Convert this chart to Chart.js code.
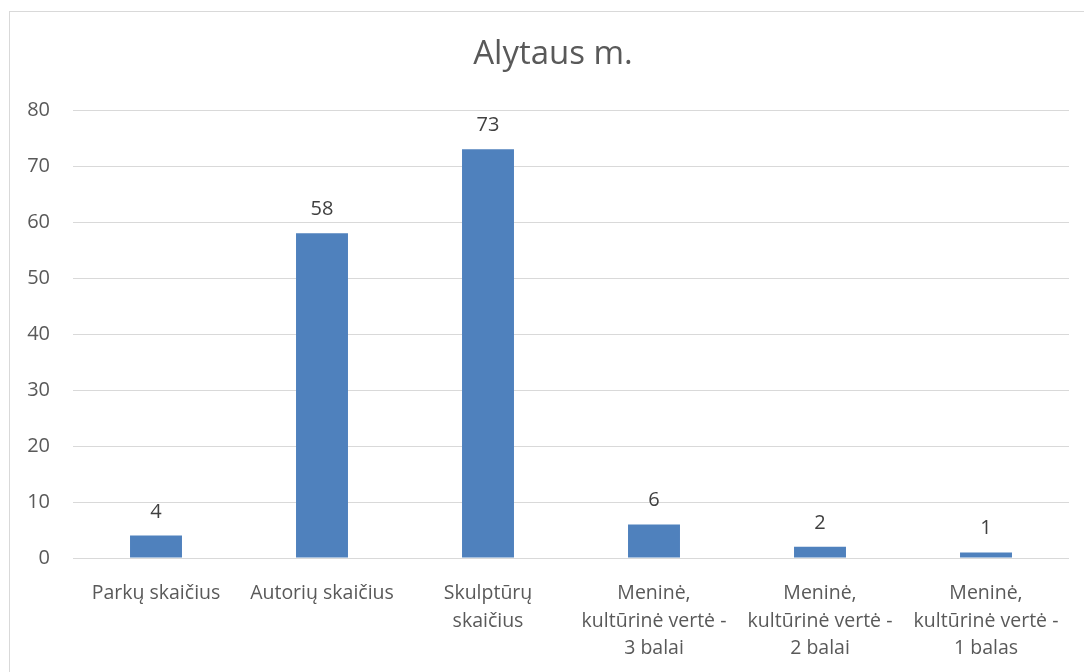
<!DOCTYPE html>
<html>
<head>
<meta charset="utf-8">
<script src="https://cdn.jsdelivr.net/npm/chart.js@4.4.0/dist/chart.umd.min.js"></script>
<style>
  html, body { margin: 0; padding: 0; background: #ffffff; overflow: hidden; }
  #frame { position: absolute; left: 9px; top: 11px; width: 1200px; height: 800px; border: 1px solid #d9d9d9; box-sizing: border-box; }
  #wrap { position: absolute; left: 0; top: 0; width: 1084px; height: 672px; }
</style>
</head>
<body>
<div id="frame"></div>
<div id="wrap"><canvas id="c" width="1084" height="672"></canvas></div>
<script>
const chartTitle = "Alytaus m.";
const categories = [
  ["Parkų skaičius"],
  ["Autorių skaičius"],
  ["Skulptūrų", "skaičius"],
  ["Meninė,", "kultūrinė vertė -", "3 balai"],
  ["Meninė,", "kultūrinė vertė -", "2 balai"],
  ["Meninė,", "kultūrinė vertė -", "1 balas"]
];
const values = [4, 58, 73, 6, 2, 1];
const yTicks = [0, 10, 20, 30, 40, 50, 60, 70, 80];

const FONT = "'Open Sans', sans-serif";

const dataLabels = {
  id: 'dataLabels',
  afterDatasetsDraw(chart) {
    const ctx = chart.ctx;
    const meta = chart.getDatasetMeta(0);
    ctx.save();
    ctx.font = "20px " + FONT;
    ctx.fillStyle = "#404040";
    ctx.textAlign = "center";
    ctx.textBaseline = "alphabetic";
    meta.data.forEach((bar, i) => {
      ctx.fillText(String(values[i]), bar.x, bar.y - 18);
    });
    ctx.restore();
  }
};

// Center the title over the whole chart frame (which extends past the window)
const titleCenter = {
  id: 'titleCenter',
  afterLayout(chart) {
    const t = chart.titleBlock;
    if (t) { t.left = 0; t.right = 1106; t.width = 1106; }
  }
};

new Chart(document.getElementById('c'), {
  type: 'bar',
  data: {
    labels: categories,
    datasets: [{
      data: values,
      backgroundColor: '#4f81bd',
      borderWidth: 0,
      categoryPercentage: 1.0,
      barPercentage: 0.313
    }]
  },
  options: {
    responsive: false,
    animation: false,
    devicePixelRatio: 1,
    layout: { padding: { left: 0, right: 15, top: 0, bottom: 0 } },
    plugins: {
      legend: { display: false },
      tooltip: { enabled: false },
      title: {
        display: true,
        text: chartTitle,
        color: '#595959',
        font: { family: FONT, size: 33, weight: 'normal', lineHeight: 1.2 },
        padding: { top: 35, bottom: 35.4 }
      }
    },
    scales: {
      x: {
        grid: { display: false, drawTicks: false },
        border: { display: false },
        ticks: {
          color: '#595959',
          font: { family: FONT, size: 19.5, lineHeight: 1.4 },
          padding: 22,
          maxRotation: 0,
          autoSkip: false
        },
        afterFit(scale) { scale.height = 672 - 558; }
      },
      y: {
        min: 0,
        max: 80,
        afterBuildTicks(scale) { scale.ticks = yTicks.map(v => ({ value: v })); },
        grid: { color: '#d9d9d9', lineWidth: 1, drawTicks: false },
        border: { display: false },
        ticks: {
          color: '#595959',
          font: { family: FONT, size: 20 },
          padding: 23
        },
        afterFit(scale) { scale.width = 73; }
      }
    }
  },
  plugins: [dataLabels, titleCenter]
});
</script>
</body>
</html>
